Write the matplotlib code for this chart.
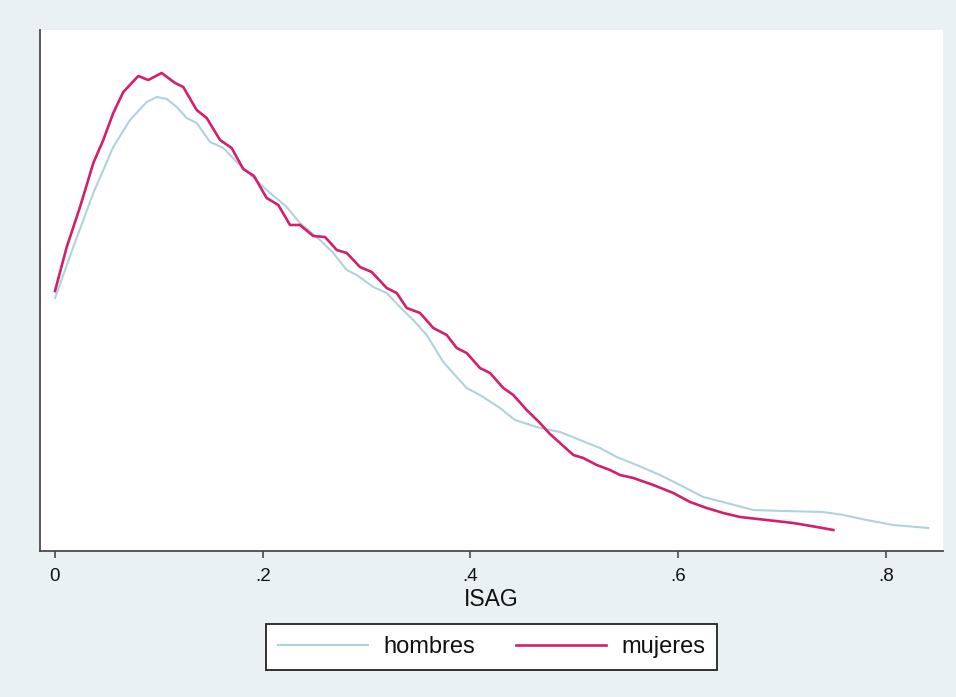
import matplotlib
matplotlib.use("Agg")
import matplotlib.pyplot as plt

# ISAG kernel densities (y-axis unlabeled in the original; arbitrary density units)
hombres_x = [0.000, 0.0176, 0.0369, 0.0561, 0.0722, 0.0883, 0.0979, 0.1076, 0.1172, 0.1268,
             0.1364, 0.1493, 0.1621, 0.1750, 0.2038, 0.2231, 0.2359, 0.2552, 0.2680, 0.2809,
             0.2905, 0.3065, 0.3194, 0.3322, 0.3450, 0.3579, 0.3739, 0.3868, 0.3964, 0.4092,
             0.4285, 0.4429, 0.4670, 0.4863, 0.5055, 0.5248, 0.5409, 0.5601, 0.5826, 0.6018,
             0.6243, 0.6468, 0.6724, 0.7013, 0.7398, 0.7591, 0.7816, 0.8072, 0.8409]
hombres_y = [2.53, 3.04, 3.58, 4.04, 4.31, 4.49, 4.54, 4.52, 4.44, 4.33,
             4.28, 4.09, 4.03, 3.89, 3.61, 3.44, 3.28, 3.11, 2.98, 2.81,
             2.76, 2.64, 2.58, 2.44, 2.31, 2.16, 1.89, 1.74, 1.63, 1.56,
             1.43, 1.31, 1.23, 1.19, 1.11, 1.03, 0.94, 0.86, 0.76, 0.66,
             0.54, 0.48, 0.41, 0.40, 0.39, 0.36, 0.31, 0.26, 0.23]

mujeres_x = [0.000, 0.0113, 0.0241, 0.0369, 0.0465, 0.0561, 0.0658, 0.0802, 0.0898, 0.1027,
             0.1156, 0.1235, 0.1364, 0.1461, 0.1589, 0.1701, 0.1813, 0.1916, 0.2038, 0.2150,
             0.2263, 0.2359, 0.2487, 0.2600, 0.2713, 0.2809, 0.2937, 0.3050, 0.3194, 0.3290,
             0.3387, 0.3515, 0.3643, 0.3772, 0.3868, 0.3964, 0.4092, 0.4189, 0.4317, 0.4413,
             0.4542, 0.4670, 0.4766, 0.4863, 0.4991, 0.5087, 0.5216, 0.5344, 0.5441, 0.5569,
             0.5761, 0.5954, 0.6115, 0.6275, 0.6435, 0.6596, 0.6853, 0.7109, 0.7335, 0.7495]
mujeres_y = [2.60, 3.04, 3.44, 3.88, 4.11, 4.38, 4.59, 4.75, 4.71, 4.78,
             4.68, 4.64, 4.41, 4.33, 4.11, 4.03, 3.82, 3.75, 3.53, 3.46,
             3.26, 3.26, 3.15, 3.14, 3.01, 2.98, 2.84, 2.79, 2.63, 2.58,
             2.43, 2.38, 2.23, 2.16, 2.03, 1.98, 1.83, 1.78, 1.63, 1.56,
             1.41, 1.28, 1.17, 1.08, 0.96, 0.93, 0.86, 0.81, 0.76, 0.73,
             0.66, 0.58, 0.49, 0.43, 0.38, 0.34, 0.31, 0.28, 0.24, 0.21]

x_ticks = [0, 0.2, 0.4, 0.6, 0.8]
x_tick_labels = ["0", ".2", ".4", ".6", ".8"]
x_label = "ISAG"
series_labels = ["hombres", "mujeres"]

BG = "#EAF1F3"
C_H = "#B0D3D9"
C_M = "#D2206A"

plt.rcParams['font.family'] = ['Liberation Sans', 'DejaVu Sans']

fig = plt.figure(figsize=(9.56, 6.97), dpi=100, facecolor=BG)
ax = fig.add_axes([40/956, 1-551/697, (943-40)/956, (551-30)/697])
ax.set_facecolor("white")

ax.plot(hombres_x, hombres_y, color=C_H, lw=1.5, label=series_labels[0], solid_joinstyle='round')
ax.plot(mujeres_x, mujeres_y, color=C_M, lw=1.9, label=series_labels[1], solid_joinstyle='round')

ax.set_xlim((40-55)/1038.5, (943-55)/1038.5)
ax.set_ylim(0, 5.21)

for s in ["top", "right"]:
    ax.spines[s].set_visible(False)
for s in ["left", "bottom"]:
    ax.spines[s].set_color("#4a4a4a")
    ax.spines[s].set_linewidth(1.3)

ax.set_yticks([])
ax.set_xticks(x_ticks)
ax.set_xticklabels(x_tick_labels, fontsize=13.5, color="#111111")
ax.tick_params(axis='x', length=5, width=1.2, color="#4a4a4a", pad=7)
ax.set_xlabel(x_label, fontsize=16.5, color="#111111", labelpad=2.5)

leg = fig.legend(loc="center", bbox_to_anchor=(491.5/956, 1-647/697), ncol=2,
                 fontsize=17, handlelength=3.8, handletextpad=0.65, columnspacing=1.75,
                 frameon=True, fancybox=False, borderpad=0.5, framealpha=1)
leg.get_frame().set_edgecolor("#222222")
leg.get_frame().set_linewidth(1.3)
leg.get_frame().set_facecolor("white")
for t in leg.get_texts():
    t.set_color("#111111")

fig.savefig("out.png", dpi=100, facecolor=BG)
